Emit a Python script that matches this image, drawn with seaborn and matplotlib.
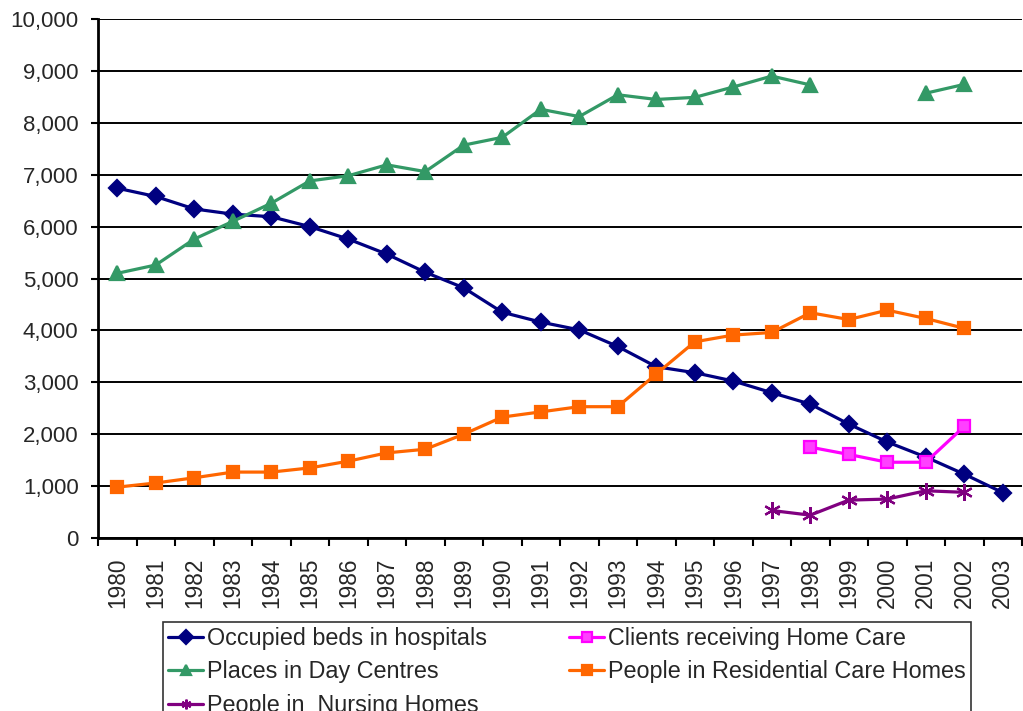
import matplotlib
matplotlib.use("Agg")
import matplotlib.pyplot as plt
from matplotlib.ticker import FuncFormatter, MultipleLocator
import seaborn as sns
import numpy as np
import pandas as pd

years = list(range(1980, 2004))
nan = np.nan

hospital_beds = [6740, 6580, 6340, 6240, 6190, 6000, 5760, 5470, 5120, 4820,
                 4350, 4160, 4010, 3690, 3300, 3185, 3025, 2800, 2580, 2195,
                 1850, 1560, 1230, 875]
day_centres = [5100, 5260, 5760, 6100, 6450, 6880, 6980, 7190, 7060, 7570,
               7720, 8260, 8120, 8540, 8450, 8490, 8690, 8900, 8730, nan,
               nan, 8570, 8740, nan]
nursing_homes = [nan] * 17 + [530, 440, 730, 750, 910, 880, nan]
home_care = [nan] * 18 + [1750, 1610, 1460, 1460, 2150, nan]
residential = [980, 1060, 1160, 1270, 1270, 1350, 1480, 1640, 1710, 2000,
               2330, 2430, 2530, 2530, 3160, 3780, 3910, 3960, 4340, 4210,
               4390, 4230, 4040, nan]

labels = ["Occupied beds in hospitals", "Places in Day Centres",
          "People in  Nursing Homes", "Clients receiving Home Care",
          "People in Residential Care Homes"]

df = pd.DataFrame({
    "year": years,
    labels[0]: hospital_beds,
    labels[1]: day_centres,
    labels[2]: nursing_homes,
    labels[3]: home_care,
    labels[4]: residential,
})

# style per series: colour, marker, marker size, face colour
styles = {
    labels[0]: ("#000080", "D", 8, "#000080"),
    labels[1]: ("#339966", "^", 10, "#339966"),
    labels[2]: ("#800080", (6, 2, 0), 12, "#800080"),
    labels[4]: ("#FF6600", "s", 9, "#FF6600"),
    labels[3]: ("#FF00FF", "s", 9, "#FF40FF"),
}

sns.set_style("white")
plt.rcParams["font.family"] = ["Liberation Sans", "DejaVu Sans"]

fig = plt.figure(figsize=(10.23, 7.11), dpi=100)
ax = fig.add_axes([98 / 1023, 1 - 538 / 711, 924 / 1023, 519 / 711])

handles = {}
for name, (col, mk, ms, face) in styles.items():
    sub = df[["year", name]].copy()
    # split at gaps so the line breaks where data is missing
    seg = sub[name].isna().cumsum()
    sub = sub.assign(seg=seg).dropna()
    for _, part in sub.groupby("seg"):
        sns.lineplot(data=part, x="year", y=name, ax=ax, color=col,
                     linewidth=2.3, marker=mk, markersize=ms,
                     markerfacecolor=face, markeredgecolor=col,
                     markeredgewidth=1.6, zorder=3)
    handles[name] = ax.lines[-1]

ax.set_xlim(1979.5, 2003.5)
ax.set_ylim(0, 10000)
ax.set_xlabel("")
ax.set_ylabel("")

ax.set_xticks(years)
ax.set_xticklabels([str(y) for y in years], rotation=90, fontsize=16.3)
ax.xaxis.set_minor_locator(MultipleLocator(1, offset=0.5))
ax.tick_params(axis="x", which="major", length=0, pad=14)
ax.tick_params(axis="x", which="minor", length=6, width=1.5, color="black",
               direction="out", bottom=True)

ax.yaxis.set_major_locator(MultipleLocator(1000))
ax.yaxis.set_major_formatter(FuncFormatter(lambda v, p: f"{int(v):,}"))
ax.tick_params(axis="y", which="major", length=5, width=1.5, color="black",
               direction="out", left=True, pad=9, labelsize=16)

ax.grid(axis="y", color="black", linewidth=1.4)
ax.grid(axis="x", visible=False)
ax.set_axisbelow(True)
for side in ["top", "right"]:
    ax.spines[side].set_visible(False)
for side in ["left", "bottom"]:
    ax.spines[side].set_color("black")
    ax.spines[side].set_linewidth(2)
    ax.spines[side].set_zorder(4)

leg = fig.legend([handles[l] for l in labels], labels,
                 loc="upper left", bbox_to_anchor=(163 / 1023, 1 - 622 / 711),
                 ncol=2, fontsize=16.8, frameon=True, fancybox=False,
                 handlelength=1.5, handletextpad=0.15, columnspacing=3.55,
                 labelspacing=0.44, borderpad=0.22, borderaxespad=0)
leg.get_frame().set_edgecolor("black")
leg.get_frame().set_linewidth(1.2)
for h in leg.legend_handles:
    h.set_markersize(7)

fig.savefig("out.png", dpi=100)
